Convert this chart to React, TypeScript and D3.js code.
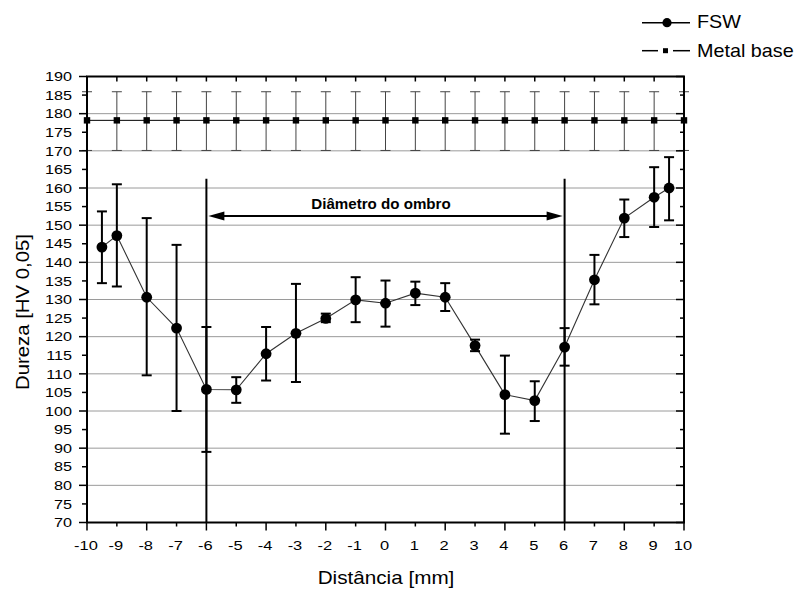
import React from "react";
import * as d3 from "d3";

const fswX = [-9.5, -9, -8, -7, -6, -5, -4, -3, -2, -1, 0, 1, 2, 3, 4, 5, 6, 7, 8, 9, 9.5];
const fswY = [144.1, 147.2, 130.6, 122.3, 105.8, 105.7, 115.4, 120.9, 124.9, 129.9, 129.0, 131.7, 130.6, 117.6, 104.4, 102.8, 117.2, 135.3, 151.9, 157.5, 160.0];
const fswLow = [134.4, 133.5, 109.6, 100.0, 89.0, 102.2, 108.2, 107.8, 123.9, 123.9, 122.7, 128.5, 126.9, 116.1, 93.9, 97.3, 112.2, 128.7, 146.8, 149.5, 151.3];
const fswHigh = [153.7, 161.0, 151.9, 144.7, 122.6, 109.1, 122.6, 134.2, 126.2, 136.0, 135.1, 134.8, 134.4, 119.2, 114.9, 108.0, 122.3, 142.0, 156.9, 165.6, 168.3];

const metalX = [-10, -9, -8, -7, -6, -5, -4, -3, -2, -1, 0, 1, 2, 3, 4, 5, 6, 7, 8, 9, 10];
const metalY = [178.2, 178.2, 178.2, 178.2, 178.2, 178.2, 178.2, 178.2, 178.2, 178.2, 178.2, 178.2, 178.2, 178.2, 178.2, 178.2, 178.2, 178.2, 178.2, 178.2, 178.2];
const metalLow = [170.1, 170.1, 170.1, 170.1, 170.1, 170.1, 170.1, 170.1, 170.1, 170.1, 170.1, 170.1, 170.1, 170.1, 170.1, 170.1, 170.1, 170.1, 170.1, 170.1, 170.1];
const metalHigh = [185.9, 185.9, 185.9, 185.9, 185.9, 185.9, 185.9, 185.9, 185.9, 185.9, 185.9, 185.9, 185.9, 185.9, 185.9, 185.9, 185.9, 185.9, 185.9, 185.9, 185.9];

const xTicks = [-10, -9, -8, -7, -6, -5, -4, -3, -2, -1, 0, 1, 2, 3, 4, 5, 6, 7, 8, 9, 10];
const yTicks = [70, 75, 80, 85, 90, 95, 100, 105, 110, 115, 120, 125, 130, 135, 140, 145, 150, 155, 160, 165, 170, 175, 180, 185, 190];
const gridValues = [80, 90, 100, 110, 120, 130, 140, 150, 160, 170, 180];
const shoulderX = [-6, 6];
const shoulderTop = 162.5;
const arrowY = 152.5;
const shoulderLabel = "Diâmetro do ombro";
const seriesNames = ["FSW", "Metal base"];
const xTitle = "Distância [mm]";
const yTitle = "Dureza [HV 0,05]";

const FONT = "'Liberation Sans', Arial, sans-serif";

function T(props: {
  x: number; y: number; sx?: number; rot?: number; anchor?: string; size: number; weight?: string; children: React.ReactNode;
}) {
  const { x, y, sx = 1, rot = 0, anchor = "start", size, weight = "normal", children } = props;
  return (
    <text
      transform={`translate(${x},${y}) rotate(${rot}) scale(${sx},1)`}
      textAnchor={anchor}
      fontFamily={FONT}
      fontSize={size}
      fontWeight={weight}
      fill="#000"
    >
      {children}
    </text>
  );
}

export default function App() {
  const x = d3.scaleLinear().domain([-10, 10]).range([87, 684]);
  const y = d3.scaleLinear().domain([70, 190]).range([522.5, 76.5]);
  const x0 = x(-10), x1 = x(10), y0 = y(70), y1 = y(190);

  const line = d3.line<number>().x((d, i) => x(fswX[i])).y((d) => y(d));
  const mline = d3.line<number>().x((d, i) => x(metalX[i])).y((d) => y(d));

  return (
    <svg width={801} height={589} style={{ position: "absolute", left: 0, top: 0, background: "#fff" }}>
      <rect x={0} y={0} width={801} height={589} fill="#fff" />
      {/* grid */}
      {gridValues.map((v) => (
        <line key={"g" + v} x1={x0} x2={x1} y1={y(v)} y2={y(v)} stroke="#9a9a9a" strokeWidth={1} />
      ))}

      {/* metal base */}
      <path d={mline(metalY) || ""} fill="none" stroke="#000" strokeWidth={1} />
      {metalX.map((xv, i) => (
        <g key={"m" + i} stroke="#444" strokeWidth={1}>
          <line x1={x(xv)} x2={x(xv)} y1={y(metalLow[i])} y2={y(metalHigh[i])} />
          <line x1={x(xv) - 5} x2={x(xv) + 5} y1={y(metalLow[i])} y2={y(metalLow[i])} />
          <line x1={x(xv) - 5} x2={x(xv) + 5} y1={y(metalHigh[i])} y2={y(metalHigh[i])} />
        </g>
      ))}
      {metalX.map((xv, i) => (
        <rect key={"ms" + i} x={x(xv) - 3.2} y={y(metalY[i]) - 3.2} width={6.4} height={6.4} fill="#000" />
      ))}

      {/* shoulder lines */}
      {shoulderX.map((v) => (
        <line key={"s" + v} x1={x(v)} x2={x(v)} y1={y(shoulderTop)} y2={y0} stroke="#000" strokeWidth={2} />
      ))}
      {/* arrow */}
      <line x1={x(shoulderX[0]) + 12} x2={x(shoulderX[1]) - 12} y1={y(arrowY)} y2={y(arrowY)} stroke="#000" strokeWidth={2} />
      <path
        d={`M${x(shoulderX[0]) + 2},${y(arrowY)} L${x(shoulderX[0]) + 18},${y(arrowY) - 4.5} L${x(shoulderX[0]) + 18},${y(arrowY) + 4.5} Z`}
        fill="#000"
      />
      <path
        d={`M${x(shoulderX[1]) - 2},${y(arrowY)} L${x(shoulderX[1]) - 18},${y(arrowY) - 4.5} L${x(shoulderX[1]) - 18},${y(arrowY) + 4.5} Z`}
        fill="#000"
      />
      <T x={381} y={209} size={14} weight="bold" anchor="middle" sx={1.08}>{shoulderLabel}</T>

      {/* FSW */}
      <path d={line(fswY) || ""} fill="none" stroke="#333" strokeWidth={1.1} />
      {fswX.map((xv, i) => (
        <g key={"f" + i} stroke="#000" strokeWidth={2}>
          <line x1={x(xv)} x2={x(xv)} y1={y(fswLow[i])} y2={y(fswHigh[i])} />
          <line x1={x(xv) - 5} x2={x(xv) + 5} y1={y(fswLow[i])} y2={y(fswLow[i])} />
          <line x1={x(xv) - 5} x2={x(xv) + 5} y1={y(fswHigh[i])} y2={y(fswHigh[i])} />
        </g>
      ))}
      {fswX.map((xv, i) => (
        <circle key={"fc" + i} cx={x(xv)} cy={y(fswY[i])} r={5.4} fill="#000" />
      ))}

      {/* axes frame */}
      <rect x={x0} y={y1} width={x1 - x0} height={y0 - y1} fill="none" stroke="#000" strokeWidth={2} />

      {/* left ticks + labels */}
      {yTicks.map((v) => {
        const major = v % 10 === 0;
        return (
          <g key={"yt" + v}>
            <line x1={x0 - (major ? 8 : 5)} x2={x0} y1={y(v)} y2={y(v)} stroke="#000" strokeWidth={1.5} />
            <line x1={x1 - (major ? 8 : 4)} x2={x1} y1={y(v)} y2={y(v)} stroke="#000" strokeWidth={1.5} />
            <T x={72} y={y(v) + 4.7} size={13.5} anchor="end" sx={1.2}>{String(v)}</T>
          </g>
        );
      })}
      {/* bottom/top ticks */}
      {xTicks.map((v) => {
        const major = v % 2 === 0;
        return (
          <g key={"xt" + v}>
            <line x1={x(v)} x2={x(v)} y1={y0} y2={y0 + (major ? 8 : 4)} stroke="#000" strokeWidth={1.5} />
            <line x1={x(v)} x2={x(v)} y1={y1} y2={y1 + 5} stroke="#000" strokeWidth={1.5} />
            <T x={x(v) - 1} y={549.5} size={13.5} anchor="middle" sx={1.22}>{String(v)}</T>
          </g>
        );
      })}

      <T x={386} y={584} size={18} anchor="middle" sx={1.15}>{xTitle}</T>
      <T x={29} y={312} size={18} anchor="middle" rot={-90} sx={1.13}>{yTitle}</T>

      {/* legend */}
      <line x1={642} x2={690} y1={22.7} y2={22.7} stroke="#000" strokeWidth={1.5} />
      <circle cx={667} cy={22.7} r={4.6} fill="#000" />
      <T x={697} y={27.5} size={19} sx={1.04}>{seriesNames[0]}</T>
      <line x1={642} x2={658} y1={50.7} y2={50.7} stroke="#000" strokeWidth={1.5} />
      <line x1={673} x2={690} y1={50.7} y2={50.7} stroke="#000" strokeWidth={1.5} />
      <rect x={663} y={48.2} width={5} height={5} fill="#000" />
      <T x={697} y={56.7} size={19} sx={1.04}>{seriesNames[1]}</T>
    </svg>
  );
}
